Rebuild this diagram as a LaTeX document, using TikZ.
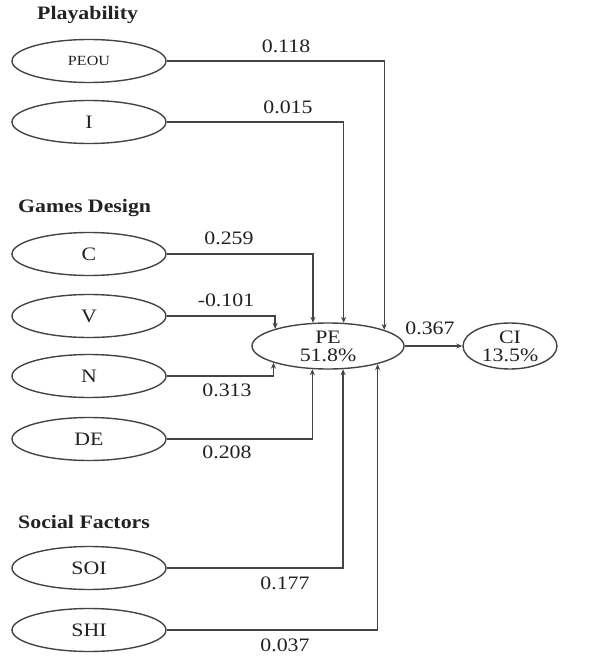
\documentclass[tikz,border=0pt]{standalone}
\usepackage{fontspec}
\setmainfont{Liberation Serif}[FakeStretch=1.15]
\usetikzlibrary{arrows.meta,shapes.geometric}
\definecolor{ln}{HTML}{444444}
\definecolor{tx}{HTML}{222222}
\tikzset{
  lv/.style={ellipse, draw=ln, line width=1.4pt, minimum width=154pt, minimum height=43pt, inner sep=0pt, font=\fontsize{19}{21}\selectfont, text=tx},
  big/.style={ellipse, draw=ln, line width=1.4pt, inner sep=0pt, font=\fontsize{19}{21}\selectfont, text=tx, align=center},
  arr/.style={draw=ln, line width=1.4pt, -{Stealth[length=6pt,width=5pt]}},
  coef/.style={font=\fontsize{19}{21}\selectfont, text=tx, inner sep=0pt},
  hdr/.style={font=\bfseries\fontsize{19}{21}\selectfont, text=tx, inner sep=0pt, anchor=west}
}
\begin{document}
\begin{tikzpicture}[x=1pt,y=-1pt]
\useasboundingbox (0,0) rectangle (610,658);
% headers
\node[hdr] (h1) at (37,15) {Playability};
\node[hdr] (h2) at (18,208) {Games Design};
\node[hdr] (h3) at (18,522) {Social Factors};
% latent variables
\node[lv, font=\fontsize{14}{16}\selectfont] (peou) at (89,61) {PEOU};
\node[lv] (i) at (89,122) {I};
\node[lv] (c) at (89,254) {C};
\node[lv] (v) at (89,316) {V};
\node[lv] (n) at (89,376) {N};
\node[lv] (de) at (89,439) {DE};
\node[lv] (soi) at (89,568) {SOI};
\node[lv] (shi) at (89,630) {SHI};
\node[big, minimum width=152pt, minimum height=46pt] (pe) at (328,346) {PE\\[-3pt]51.8\%};
\node[big, minimum width=94pt, minimum height=46pt] (ci) at (510,346) {CI\\[-3pt]13.5\%};
% connectors
\draw[arr] (peou.east) -| (pe.16.7);
\draw[arr] (i.east) -| (pe.56.4);
\draw[arr] (c.east) -| (pe.123.6);
\draw[arr] (v.east) -| (pe.162.7);
\draw[arr] (n.east) -| (pe.197.3);
\draw[arr] (de.east) -| (pe.236.4);
\draw[arr] (soi.east) -| (pe.303.6);
\draw[arr] (shi.east) -| (pe.340.9);
\draw[arr] (pe.east) -- (ci.west);
% coefficients
\node[coef] (k1) at (286,46) {0.118};
\node[coef] (k2) at (288,107) {0.015};
\node[coef] (k3) at (229,238) {0.259};
\node[coef] (k4) at (226,300) {-0.101};
\node[coef] (k5) at (227,390) {0.313};
\node[coef] (k6) at (227,452) {0.208};
\node[coef] (k7) at (285,583) {0.177};
\node[coef] (k8) at (285,645) {0.037};
\node[coef] (k9) at (430,328) {0.367};
\end{tikzpicture}
\end{document}
